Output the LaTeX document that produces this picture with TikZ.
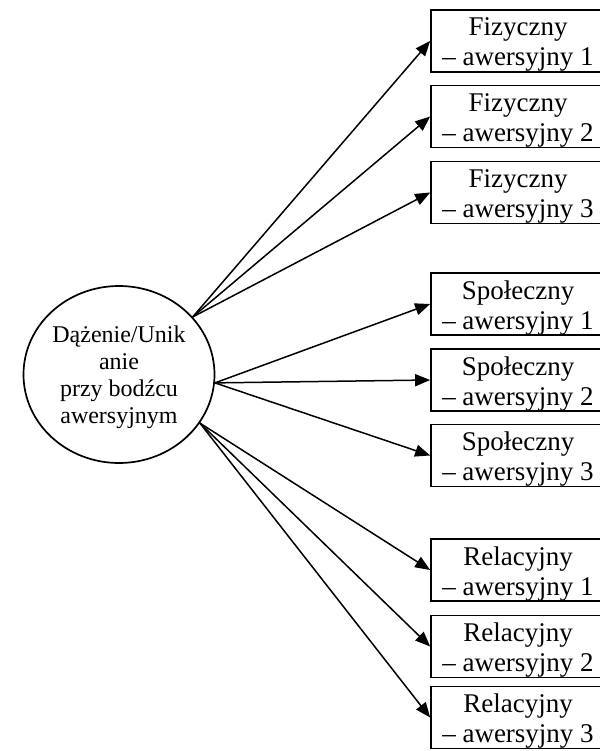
\documentclass[tikz,border=0pt]{standalone}
\usepackage{fontspec}
\setmainfont{Liberation Serif}
\usetikzlibrary{arrows.meta,shapes.geometric}

\begin{document}
\begin{tikzpicture}[x=1pt,y=-1pt,
  box/.style={draw,line width=1.7pt,minimum width=174pt,minimum height=62pt,inner sep=0pt,
    align=center,font=\fontsize{27}{30}\selectfont,text height=56pt,text depth=6pt},
  arr/.style={line width=1.5pt,-{Triangle[length=15pt,width=12pt]}}]
\useasboundingbox (0,0) rectangle (599,751);
\node[ellipse,draw,line width=1.7pt,minimum width=191pt,minimum height=177pt,inner sep=0pt,
  align=center,font=\fontsize{24}{27}\selectfont,text height=103pt,text depth=6pt] (dz) at (119,374.5)
  {Dążenie/Unik\\anie\\przy bodźcu\\awersyjnym};
\foreach \y/\A/\n [count=\i] in {41/Fizyczny/1,116.5/Fizyczny/2,192.5/Fizyczny/3,
    304/Społeczny/1,380/Społeczny/2,455.5/Społeczny/3,
    570/Relacyjny/1,646.5/Relacyjny/2,717.5/Relacyjny/3} {
  \node[box] (b\i) at (518,\y) {\A\\– awersyjny \n};
}
\foreach \i/\a in {1/38,2/38,3/38,4/-5,5/-5,6/-5,7/-31,8/-31,9/-31}
  \draw[arr] (dz.\a) -- (b\i.west);
\end{tikzpicture}
\end{document}
